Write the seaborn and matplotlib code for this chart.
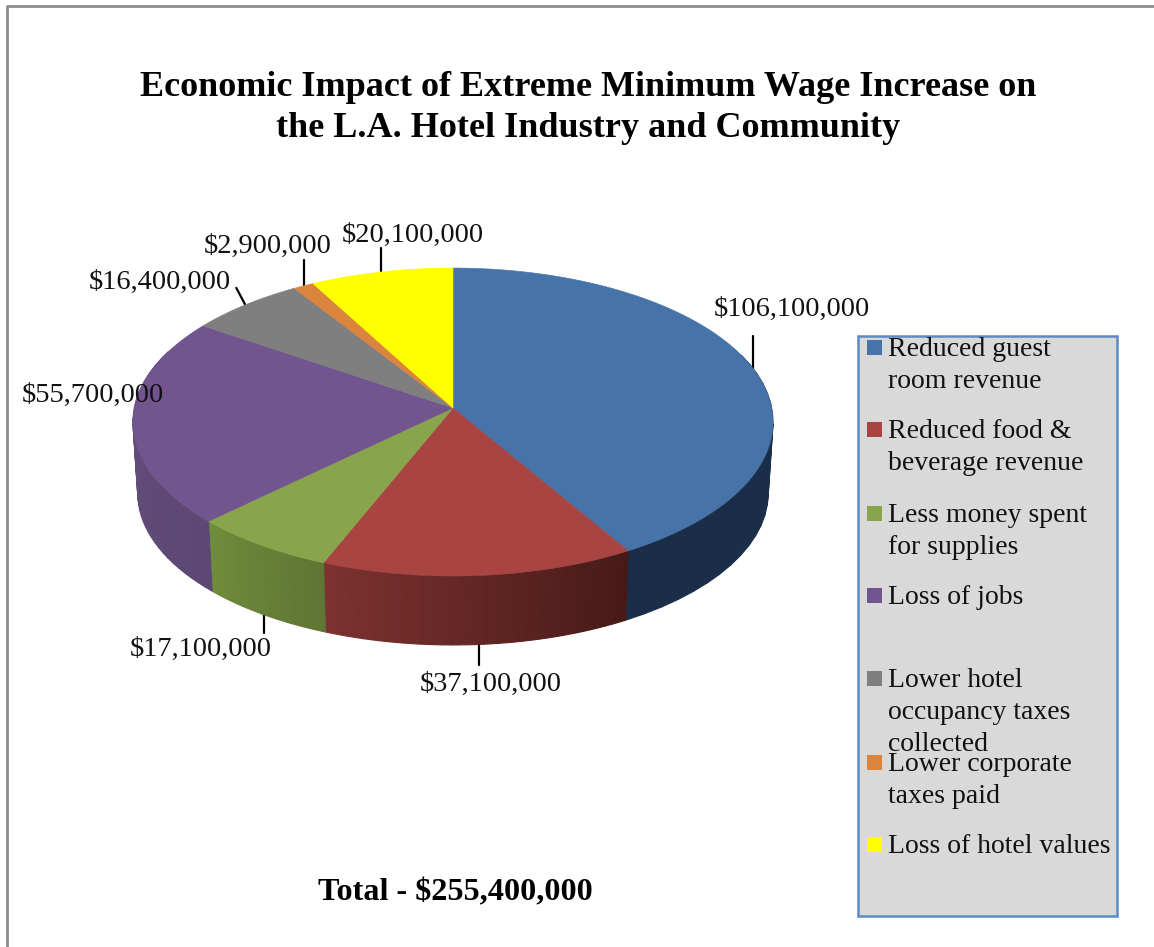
import numpy as np
import matplotlib
matplotlib.use('Agg')
import matplotlib.pyplot as plt
from matplotlib.patches import Rectangle
import seaborn as sns

# values in dollars, clockwise from 12 o'clock
categories = ['Reduced guest room revenue', 'Reduced food & beverage revenue',
              'Less money spent for supplies', 'Loss of jobs',
              'Lower hotel occupancy taxes collected', 'Lower corporate taxes paid',
              'Loss of hotel values']
values = [106100000, 37100000, 17100000, 55700000, 16400000, 2900000, 20100000]
value_labels = ['$106,100,000', '$37,100,000', '$17,100,000', '$55,700,000',
                '$16,400,000', '$2,900,000', '$20,100,000']
legend_lines = [['Reduced guest', 'room revenue'], ['Reduced food &', 'beverage revenue'],
                ['Less money spent', 'for supplies'], ['Loss of jobs'],
                ['Lower hotel', 'occupancy taxes', 'collected'],
                ['Lower corporate', 'taxes paid'], ['Loss of hotel values']]
title_text = 'Economic Impact of Extreme Minimum Wage Increase on\nthe L.A. Hotel Industry and Community'
total_text = 'Total - $255,400,000'

top_colors = ['#4673a8', '#a84442', '#89a54c', '#72548e', '#7f7f7f', '#db843d', '#ffff00']
wall_left = ['#1a2e4a', '#7c3230', '#6f8c3c', '#67507f', '#5c5c5c', '#a05f2a', '#b3b300']
wall_right = ['#1a2e4a', '#471a17', '#5f7534', '#5c4873', '#5c5c5c', '#a05f2a', '#b3b300']

# placement of the labels, leaders and legend
label_pos = [(792, 309), (491, 684), (201, 649), (93, 395), (160, 282), (268, 246), (413, 235)]
leader_len = [(0, -33), (0, 21), (0, 18), None, (-9, -17), (0, -26), (0, -24)]
legend_y = [347, 429, 513, 595, 678, 762, 844]
LINE_H = 32

CX, CY = 453, 408
A, C, K = 318.7, 152.7, 0.0909
DEPTH = 71.5
SHRINK = 0.985


def top_xy(theta):
    # clockwise angle from the top, perspective view of a circle
    u, v = np.sin(theta), np.cos(theta)
    d = 1 + K * v
    return CX + A * u / d, CY - C * v / d


def low_xy(theta):
    x, y = top_xy(theta)
    return CX + (x - CX) * SHRINK, CY + (y - CY) * SHRINK + DEPTH


sns.set_theme(style='white')
plt.rcParams['font.family'] = ['Liberation Serif', 'DejaVu Serif']

fig = plt.figure(figsize=(11.54, 9.47), dpi=100)
ax = fig.add_axes([0, 0, 1, 1])
ax.set_xlim(0, 1154)
ax.set_ylim(947, 0)
ax.axis('off')

# outer frame, cut by the image edge
ax.plot([6.5, 6.5, 1154], [947, 5.5, 5.5], color='#8c8c8c', lw=2)

edges = np.concatenate([[0], np.cumsum(values)]) / np.sum(values) * 2 * np.pi
palette = sns.color_palette(top_colors)

# side walls, shaded left to right
for i in range(len(values)):
    ts = np.linspace(edges[i], edges[i + 1], 40)
    c0, c1 = np.array(matplotlib.colors.to_rgb(wall_left[i])), np.array(matplotlib.colors.to_rgb(wall_right[i]))
    for j in range(len(ts) - 1):
        if np.cos(ts[j]) > 0.35 and np.cos(ts[j + 1]) > 0.35:
            continue
        x0, y0 = top_xy(ts[j])
        x1, y1 = top_xy(ts[j + 1])
        x2, y2 = low_xy(ts[j + 1])
        x3, y3 = low_xy(ts[j])
        f = (len(ts) - 2 - j) / (len(ts) - 2)
        col = c0 + (c1 - c0) * f
        ax.fill([x0, x1, x2, x3], [y0, y1, y2, y3], color=col, lw=0.8, zorder=2)

# top faces
for i in range(len(values)):
    ts = np.linspace(edges[i], edges[i + 1], 120)
    xs, ys = top_xy(ts)
    ax.fill(np.r_[CX, xs], np.r_[CY, ys], color=palette[i], lw=0.4, zorder=3)

# leaders and data labels
for i, lab in enumerate(value_labels):
    mid = (edges[i] + edges[i + 1]) / 2
    if leader_len[i] is not None:
        x, y = low_xy(mid) if np.cos(mid) < -0.5 else top_xy(mid)
        ax.plot([x, x + leader_len[i][0]], [y, y + leader_len[i][1]], color='black', lw=1.6, zorder=1)
    ax.text(label_pos[i][0], label_pos[i][1], lab, ha='center', va='center', fontsize=20.5, color='#111111', zorder=5)

ax.text(588, 108, title_text, ha='center', va='center', fontsize=26, fontweight='bold',
        color='black', linespacing=1.3)
ax.text(455, 893, total_text, ha='center', va='center', fontsize=23.2, fontweight='bold', color='black')

# legend box
ax.add_patch(Rectangle((858, 336), 259, 580, facecolor='#d9d9d9', edgecolor='#5b8ac4', lw=1.8, zorder=4))
for i, lines in enumerate(legend_lines):
    ax.add_patch(Rectangle((867, legend_y[i] - 7.5), 15, 15, facecolor=palette[i], edgecolor='none', zorder=5))
    for k, line in enumerate(lines):
        ax.text(888, legend_y[i] + 9 + k * LINE_H, line, ha='left', va='baseline', fontsize=20,
                color='#111111', zorder=6)

fig.savefig('out.png', dpi=100, facecolor='white')
